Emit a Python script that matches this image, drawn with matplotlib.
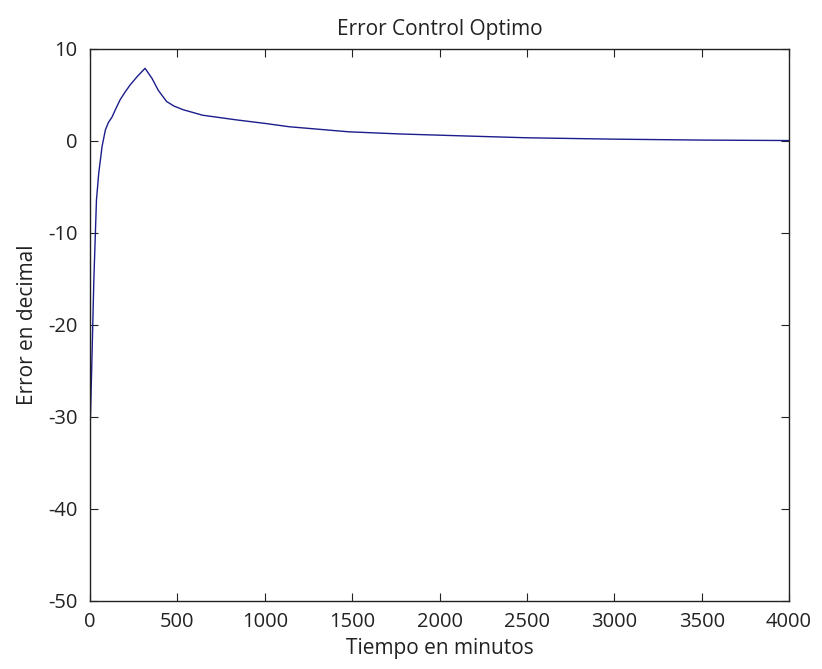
import numpy as np
import matplotlib
matplotlib.use('Agg')
import matplotlib.pyplot as plt

plt.rcParams['font.family'] = ['Open Sans', 'DejaVu Sans']
plt.rcParams['axes.unicode_minus'] = False

# tiempo (minutos) y error
tiempo = [0, 4, 12, 22, 37, 50, 69, 88, 105, 126, 150, 173, 200, 230, 270,
          315, 355, 391, 438, 480, 533, 645, 836, 1006, 1140, 1480, 1780,
          2160, 2500, 3000, 3500, 4000]
error = [-31.6, -29.0, -23.0, -15.1, -6.4, -3.5, -0.6, 1.2, 2.0, 2.6, 3.6,
         4.5, 5.3, 6.1, 7.0, 7.9, 6.8, 5.5, 4.3, 3.8, 3.4, 2.8, 2.3, 1.9,
         1.55, 1.0, 0.76, 0.54, 0.35, 0.2, 0.1, 0.05]

xticks = [0, 500, 1000, 1500, 2000, 2500, 3000, 3500, 4000]
yticks = [-50, -40, -30, -20, -10, 0, 10]

fig = plt.figure(figsize=(8.22, 6.69), dpi=100)
ax = fig.add_axes([90 / 822, 1 - 601 / 669, 699 / 822, 552 / 669])

ax.plot(tiempo, error, color='#1c1c8c', linewidth=1.0)

ax.set_xlim(0, 4000)
ax.set_ylim(-50, 10)
ax.set_xticks(xticks)
ax.set_yticks(yticks)
ax.tick_params(direction='in', top=True, right=True, length=6,
               labelsize=14.5, colors='#222222')
ax.tick_params(axis='x', pad=8)
ax.tick_params(axis='y', pad=9)
for s in ax.spines.values():
    s.set_linewidth(1.0)
    s.set_color('#222222')

ax.set_title('Error Control Optimo', fontsize=15, pad=10, color='#222222')
ax.set_xlabel('Tiempo en minutos', fontsize=15, color='#222222', labelpad=4)
ax.set_ylabel('Error en decimal', fontsize=15, color='#222222', labelpad=7)

fig.savefig('out.png', dpi=100)
